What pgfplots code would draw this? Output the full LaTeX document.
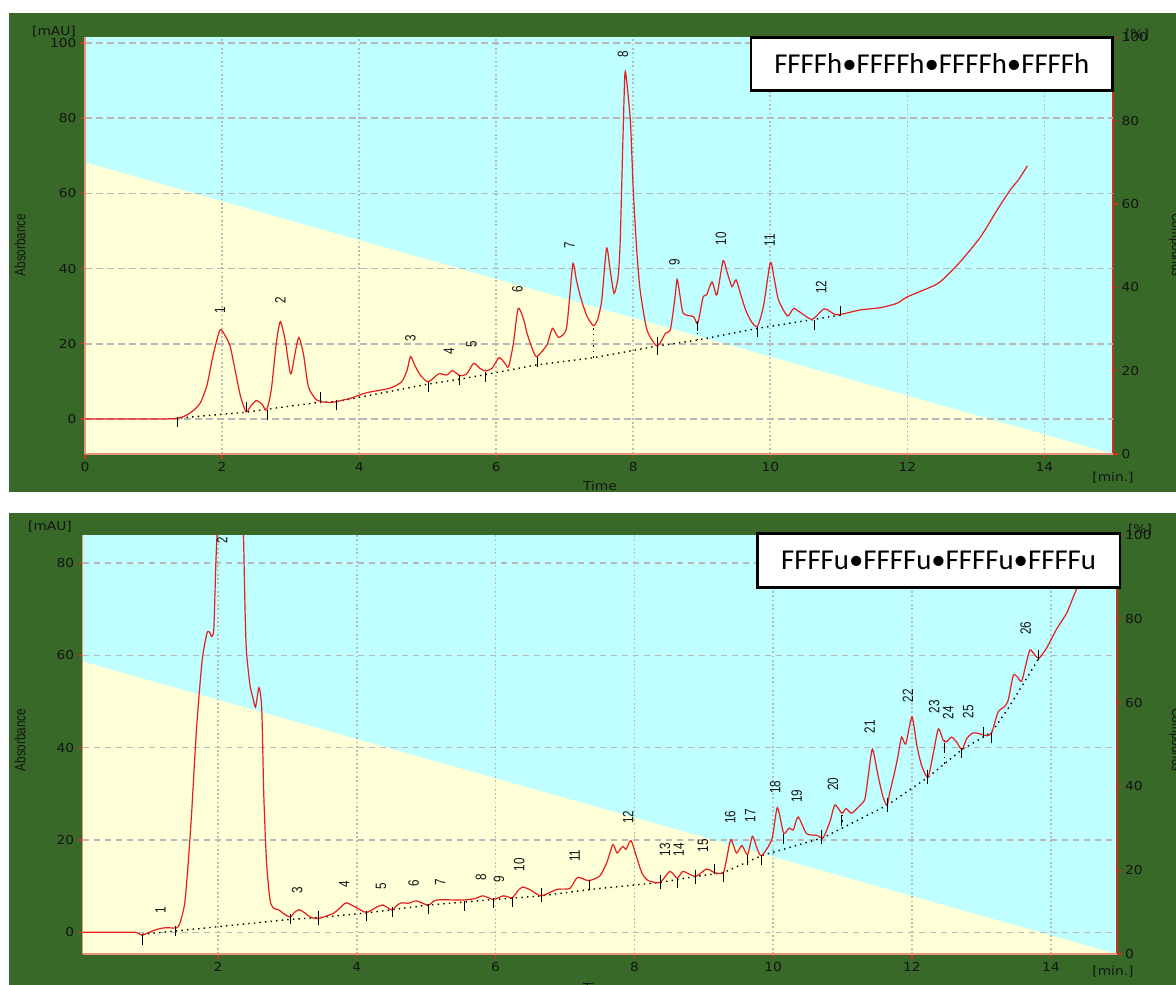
\documentclass[border=0pt]{standalone}
\usepackage{fontspec}
\usepackage{pgfplots}
\pgfplotsset{compat=1.18}
\setmainfont{DejaVu Sans}
\newfontfamily\tickfont{DejaVu Sans}[FakeStretch=1.12]
\newfontfamily\narrowfont{Liberation Sans}[FakeStretch=0.78]
\newfontfamily\boxfont{Carlito}
\definecolor{bggreen}{RGB}{56,105,40}
\definecolor{cyanbg}{RGB}{192,255,255}
\definecolor{ylw}{RGB}{255,255,216}
\definecolor{gridc}{RGB}{184,184,184}
\definecolor{axisred}{RGB}{200,50,30}
\definecolor{axislight}{RGB}{230,150,120}
\definecolor{tickc}{RGB}{20,20,20}
\definecolor{curve}{RGB}{230,30,30}

\pgfplotsset{
  common/.style={
    scale only axis, anchor=south west,
    tick align=outside, major tick length=5pt,
    tick style={draw=axisred, line width=1.2pt},
    tick label style={font=\tickfont\fontsize{12.3}{14}\selectfont, text=tickc},
    /pgf/number format/assume math mode=true,
  },
  leftax/.style={
    common,
    axis x line*=bottom, axis y line*=left,
    x axis line style={draw=axislight, line width=1.6pt},
    y axis line style={draw=axislight, line width=1.2pt},
    xmajorgrids, ymajorgrids,
    x grid style={gridc, line width=1.7pt, dash pattern=on 1.7pt off 2.6pt},
    y grid style={gridc, line width=1.5pt, dash pattern=on 6.5pt off 4.5pt},
  },
  rightax/.style={
    common,
    axis x line=none, axis y line*=right,
    y axis line style={draw=axisred, line width=1.6pt},
    ymin=0, ymax=100, ytick={0,20,...,100},
    axis background/.style={fill=cyanbg},
  },
  trace/.style={curve, line width=1.2pt, smooth, tension=0.4},
  basel/.style={black, line width=1.4pt, dash pattern=on 1.4pt off 4.2pt},
  intmark/.style={only marks, mark=|, mark size=5pt, mark options={black, line width=1pt}},
}
\newcommand{\pk}[3]{\node[rotate=90, font=\narrowfont\fontsize{15}{15}\selectfont, text=tickc, inner sep=0pt] at (axis cs:#1,#2) {#3};}

\begin{document}
\begin{tikzpicture}[x=1pt,y=1pt]
\useasboundingbox (0,0) rectangle (1176,985);
\fill[white] (0,0) rectangle (1176,985);
\begin{scope}
\clip (0,0) rectangle (1176,985);
\fill[bggreen] (9,493) rectangle (1176,972);
\fill[bggreen] (9,0) rectangle (1176,472);

% ================= TOP PANEL =================
\begin{axis}[rightax, at={(85pt,531pt)}, width=1028pt, height=416.7pt, xmin=0, xmax=15]
  \addplot[fill=ylw, draw=none] coordinates {(0,70) (15,0)} \closedcycle;
\end{axis}
\begin{axis}[leftax, at={(85pt,531pt)}, width=1028pt, height=416.7pt,
  xmin=0, xmax=15, ymin=-9.3, ymax=101.5,
  xtick={0,2,...,14}, ytick={0,20,...,100}]
  \addplot[basel] coordinates {(1.40,0.3) (2.35,1.8) (2.65,2.6) (3.40,4.4) (3.67,4.6) (5.01,9.3) (5.47,10.6) (5.84,11.8) (6.59,14.4) (7.42,16.3) (8.35,19.4) (8.94,21.0) (9.81,24.1) (10.64,26.5) (11.03,27.7)};
  \addplot[basel] coordinates {(7.42,16.3) (7.42,24.8)};
  \addplot[basel] coordinates {(8.94,21.0) (8.94,25.4)};
  \addplot[trace] coordinates {
(0,0) (0.5,0) (1.0,0) (1.3,0.1) (1.43,0.6) (1.55,1.8) (1.68,4.2) (1.78,9) (1.87,17) (1.97,23.7) (2.05,22) (2.12,19.2) (2.19,13) (2.27,6) (2.35,1.9) (2.42,3.5) (2.50,4.9) (2.58,4.0) (2.65,2.4) (2.72,8) (2.79,20) (2.85,25.9) (2.92,21) (3.0,12) (3.06,17) (3.12,21.7) (3.19,17) (3.26,8.6) (3.38,5.1) (3.58,4.4) (3.87,5.5) (4.11,7) (4.45,8.2) (4.62,9.9) (4.70,13) (4.75,16.6) (4.82,14) (4.90,11.5) (5.01,9.9) (5.16,12) (5.28,11.7) (5.36,12.9) (5.47,11.5) (5.57,12) (5.67,14.8) (5.76,13.5) (5.84,12.8) (5.94,13.5) (6.04,16.3) (6.12,15) (6.18,13.9) (6.25,20) (6.32,29.4) (6.40,26.5) (6.45,22.8) (6.52,19) (6.59,16.6) (6.74,19.7) (6.82,24.1) (6.91,21.7) (7.02,23.7) (7.07,32) (7.12,41.4) (7.17,37) (7.23,32.5) (7.32,27.5) (7.42,24.8) (7.48,26.5) (7.54,31.6) (7.61,45.4) (7.66,40) (7.72,33.4) (7.78,38) (7.81,47.6) (7.85,75) (7.88,92.2) (7.92,87) (7.96,78.6) (8.0,60.9) (8.05,45) (8.10,34.3) (8.2,23.7) (8.35,19.4) (8.47,22.8) (8.54,23.7) (8.60,31) (8.64,37.1) (8.68,33) (8.73,28.1) (8.88,27.2) (8.94,25.4) (9.02,32.5) (9.07,33) (9.15,36.5) (9.22,33) (9.31,42.1) (9.37,39) (9.44,35.2) (9.50,37) (9.57,33) (9.64,29) (9.72,26) (9.81,24.6) (9.90,30) (10.0,41.6) (10.06,37) (10.12,31.6) (10.25,27.4) (10.34,29.4) (10.45,28.2) (10.61,26.5) (10.79,29.3) (10.97,27.7) (11.31,29) (11.61,29.6) (11.85,30.8) (12.0,32.5) (12.29,34.7) (12.48,36.5) (12.77,41.8) (13.07,48.5) (13.31,55.6) (13.50,60.9) (13.62,63.6) (13.75,67.3)};
  \addplot[intmark] coordinates {(1.35,-0.9) (2.35,3.3) (2.66,1.1) (3.43,5.9) (3.67,3.7) (5.01,8.6) (5.47,10.4) (5.85,11.3) (6.60,15.2) (8.94,24.6) (9.81,23.2) (10.64,25.0) (11.03,28.7)};
  \addplot[only marks, mark=|, mark size=9pt, mark options={black, line width=1pt}] coordinates {(8.35,19.3)};
  \pk{1.97}{29}{1} \pk{2.85}{31.6}{2} \pk{4.75}{21.5}{3} \pk{5.31}{18}{4} \pk{5.64}{20}{5}
  \pk{6.31}{34.6}{6} \pk{7.07}{46.3}{7} \pk{7.85}{97}{8} \pk{8.6}{41.8}{9} \pk{9.28}{48}{10}
  \pk{9.99}{47.6}{11} \pk{10.74}{35}{12}
\end{axis}

% ================= BOTTOM PANEL =================
\begin{axis}[rightax, at={(82.7pt,31pt)}, width=1034pt, height=419pt, xmin=0.05, xmax=14.95]
  \addplot[fill=ylw, draw=none] coordinates {(0.05,69.8) (14.95,0)} \closedcycle;
\end{axis}
\begin{axis}[leftax, at={(82.7pt,31pt)}, width=1034pt, height=419pt,
  xmin=0.05, xmax=14.95, ymin=-4.7, ymax=86.1,
  xtick={2,4,...,14}, ytick={0,20,...,80}]
  \addplot[basel] coordinates {(0.91,-0.4) (1.40,0.3) (3.04,2.8) (3.45,3.2) (4.14,4.2) (5.03,5.9) (5.97,7.1) (6.66,7.9) (7.37,9.3) (7.50,9.5) (8.37,10.8) (8.88,12.1) (9.28,12.9) (9.83,16.6) (10.72,20.5) (11.64,27.5) (12.23,33.6) (12.72,39.6) (13.15,43.4) (13.39,48.6) (13.83,59.4)};
  \addplot[basel] coordinates {(12.47,36.5) (12.47,41.6)};
  \addplot[basel] coordinates {(10.99,24.0) (10.99,25.8)};
  \addplot[trace] coordinates {
(0.05,0) (0.5,0) (0.80,0) (0.86,-0.3) (0.91,-0.65) (1.02,0.1) (1.16,0.8) (1.26,1.0) (1.40,0.95) (1.45,1.9) (1.52,6.3) (1.57,15) (1.62,25.9) (1.69,44.1) (1.77,58.7) (1.84,64.8) (1.88,65) (1.91,64.1) (1.94,65.9) (1.97,80.5) (1.99,88) (2.01,100) (2.05,110) (2.30,110) (2.35,100) (2.365,88) (2.39,69.6) (2.41,60.8) (2.46,53.6) (2.50,51) (2.54,48.8) (2.59,53) (2.63,48.5) (2.66,29.5) (2.70,15) (2.75,7) (2.80,5.2) (2.87,4.9) (2.95,4.0) (3.04,3.3) (3.10,4.3) (3.17,4.9) (3.25,4.2) (3.33,3.3) (3.45,3.0) (3.66,4.1) (3.78,5.6) (3.85,6.4) (4.0,5.3) (4.14,4.3) (4.29,5.5) (4.38,5.9) (4.51,4.8) (4.58,5.9) (4.65,6.4) (4.74,6.3) (4.86,6.8) (5.03,5.9) (5.15,7.0) (5.53,7.0) (5.70,7.3) (5.82,7.9) (5.97,7.1) (6.11,7.9) (6.24,7.5) (6.32,9.0) (6.39,9.8) (6.50,9.2) (6.66,7.9) (6.88,9.3) (7.07,9.5) (7.18,11.9) (7.34,11.2) (7.50,12.2) (7.60,15) (7.69,19) (7.75,17.2) (7.83,18.6) (7.88,18.0) (7.95,19.9) (8.03,16.4) (8.11,12.8) (8.20,11.2) (8.37,10.8) (8.51,13.2) (8.62,11.7) (8.70,13.2) (8.88,12.1) (9.04,13.7) (9.16,12.9) (9.28,12.9) (9.33,16) (9.39,20.1) (9.47,17.2) (9.55,18.8) (9.63,16.8) (9.70,20.8) (9.76,18.5) (9.83,16.6) (9.98,20.1) (10.06,27) (10.15,21.5) (10.23,22.6) (10.29,22.2) (10.36,25) (10.48,21.4) (10.63,21.0) (10.72,20.5) (10.82,24.1) (10.89,27.6) (10.99,25.8) (11.05,26.8) (11.13,25.8) (11.23,27.2) (11.32,28.8) (11.37,33.9) (11.43,39.7) (11.51,34) (11.58,29.5) (11.64,27.5) (11.68,30.3) (11.75,34.7) (11.80,38.3) (11.85,42.3) (11.91,40.8) (12.0,46.7) (12.07,40.5) (12.14,36.1) (12.23,33.6) (12.31,39) (12.38,44.1) (12.45,41.6) (12.50,41.3) (12.57,42.3) (12.64,41.3) (12.72,39.6) (12.79,42) (12.88,43.2) (12.98,43.0) (13.08,42.6) (13.15,43.3) (13.24,47.7) (13.34,49) (13.39,50.5) (13.46,55.7) (13.52,55.3) (13.58,54.4) (13.64,57.9) (13.70,61.2) (13.77,60.1) (13.83,59.4) (13.94,61.6) (14.08,65.6) (14.23,69.2) (14.32,72.5) (14.42,76.1) (14.6,82) (14.8,88) (14.95,93)};
  \addplot[intmark] coordinates {(0.91,-1.6) (1.39,0.3) (3.04,2.8) (4.14,3.5) (4.51,4.4) (5.03,5.1) (5.55,5.7) (5.97,6.4) (6.24,6.6) (7.36,10.2) (8.62,10.6) (9.16,13.8) (9.28,12.0) (9.63,15.7) (9.83,15.7) (10.15,20.2) (10.99,24.2) (12.47,40) (12.72,38.8) (13.03,43.5) (13.15,42.2) (13.83,60.2)};
  \addplot[only marks, mark=|, mark size=7pt, mark options={black, line width=1pt}] coordinates {(3.45,3.2) (6.66,8.0) (8.37,10.9) (8.88,12.0) (10.70,20.6) (11.64,27.6) (12.23,33.6)};
  \pk{1.17}{4.8}{1} \pk{2.06}{85.0}{2} \pk{3.14}{9.2}{3} \pk{3.82}{10.5}{4} \pk{4.35}{10}{5}
  \pk{4.82}{10.7}{6} \pk{5.20}{10.9}{7} \pk{5.79}{12}{8} \pk{6.05}{11.4}{9} \pk{6.34}{14.6}{10}
  \pk{7.14}{16.6}{11} \pk{7.91}{24.9}{12} \pk{8.44}{17.9}{13} \pk{8.64}{17.9}{14} \pk{8.99}{18.8}{15}
  \pk{9.38}{24.9}{16} \pk{9.67}{25.3}{17} \pk{10.03}{31.4}{18} \pk{10.34}{29.5}{19} \pk{10.86}{32.1}{20}
  \pk{11.39}{44.5}{21} \pk{11.94}{51.3}{22} \pk{12.32}{48.9}{23} \pk{12.52}{47.6}{24} \pk{12.81}{47.8}{25}
  \pk{13.64}{65.9}{26}
\end{axis}

% ================= LABELS =================
\tikzset{lab/.style={font=\tickfont\fontsize{12.3}{14}\selectfont, text=tickc, inner sep=0pt}}
\tikzset{nlab/.style={font=\narrowfont\fontsize{15}{15}\selectfont, text=tickc, inner sep=0pt}}
% top
\node[lab] at (54,953) {[mAU]};
\node[nlab, rotate=90] at (20,740) {Absorbance};
\node[lab] at (600,499) {Time};
\node[lab] at (1113,507) {[min.]};
\node[lab] at (1137,950) {[\%]};
\node[nlab, rotate=-90] at (1176,740) {Compounds};
% bottom
\node[lab] at (50,458) {[mAU]};
\node[nlab, rotate=90] at (20,245) {Absorbance};
\node[lab] at (600,-3) {Time};
\node[lab] at (1113,13) {[min.]};
\node[lab] at (1140,455) {[\%]};
\node[nlab, rotate=-90] at (1176,245) {Compounds};
% title boxes
\node[draw=black, line width=2.6pt, fill=white, minimum width=361.7pt, minimum height=53.4pt, inner sep=0pt,
  font=\boxfont\fontsize{28.8}{30}\selectfont] at (931.9,921) {FFFFh•FFFFh•FFFFh•FFFFh};
\node[draw=black, line width=2.6pt, fill=white, minimum width=362.7pt, minimum height=54pt, inner sep=0pt,
  font=\boxfont\fontsize{28.8}{30}\selectfont] at (938.7,424.7) {FFFFu•FFFFu•FFFFu•FFFFu};
\end{scope}
\end{tikzpicture}
\end{document}
